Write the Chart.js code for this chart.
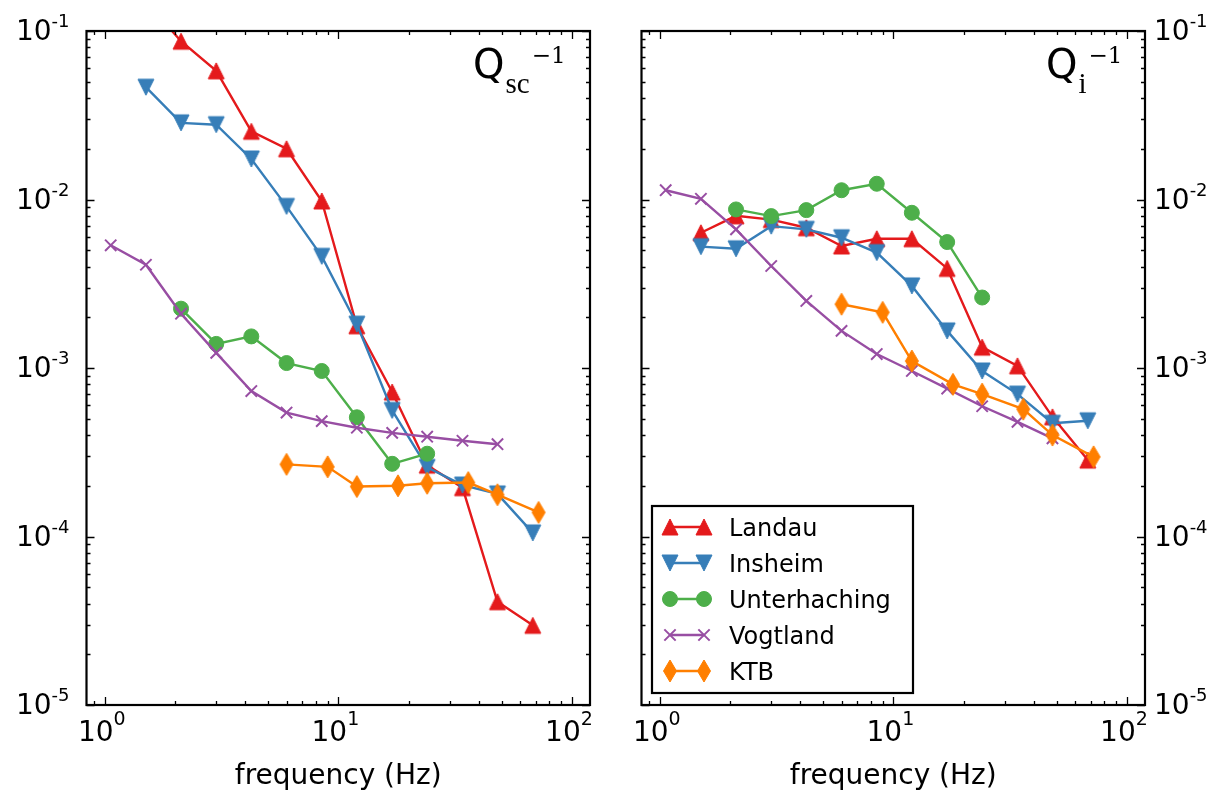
<!DOCTYPE html>
<html>
<head>
<meta charset="utf-8">
<script src="https://cdn.jsdelivr.net/npm/chart.js@4/dist/chart.umd.min.js"></script>
<style>
  body { margin: 0; background: #fff; }
  #wrap { position: relative; width: 1214px; height: 792px; background: #fff; }
  canvas { position: absolute; top: 0; }
</style>
</head>
<body>
<div id="wrap">
  <canvas id="scChart" width="615" height="792" style="left:0"></canvas>
  <canvas id="iChart" width="599" height="792" style="left:615px"></canvas>
</div>
<script>
// frequency bands (Hz)
const bandFreqs = [1.06, 1.5, 2.12, 3, 4.24, 6, 8.49, 12, 17, 24, 34, 48, 68];
const ktbFreqs = [6, 9, 12, 18, 24, 36, 48, 72];
const stations = ['Landau', 'Insheim', 'Unterhaching', 'Vogtland', 'KTB'];

// axis ticks
const xTickValues = [1, 10, 100];
const yTickValues = [1e-5, 1e-4, 1e-3, 1e-2, 1e-1];
const xMin = 0.835, xMax = 119.5;
const yMin = 1e-5, yMax = 1e-1;

// scattering attenuation Qsc^-1 (null = no value at that band)
const landauSc = [null, 0.15, 0.087, 0.058, 0.0254, 0.020, 0.0098, 0.00178, 0.00072, 0.000265, 0.000195, 4.1e-5, 2.97e-5];
const insheimSc = [null, 0.0464, 0.0285, 0.0278, 0.0174, 0.0091, 0.0046, 0.00182, 0.00056, 0.000257, 0.000202, 0.000179, 0.000105];
const unterSc = [null, null, 0.00225, 0.00139, 0.00154, 0.00107, 0.00096, 0.00051, 0.00027, 0.00031, null, null, null];
const vogtSc = [0.00535, 0.0041, 0.0021, 0.00123, 0.00073, 0.000544, 0.000484, 0.000442, 0.000412, 0.000391, 0.00037, 0.000353, null];
const ktbSc = [0.000268, 0.000259, 0.000198, 0.0002, 0.000207, 0.000209, 0.000177, 0.000139];

// intrinsic attenuation Qi^-1
const landauI = [null, 0.00635, 0.0080, 0.0076, 0.0068, 0.0053, 0.00585, 0.00585, 0.0039, 0.00133, 0.00103, 0.000513, 0.000284];
const insheimI = [null, 0.00525, 0.0051, 0.00695, 0.00665, 0.00593, 0.00484, 0.00307, 0.00166, 0.00096, 0.0007, 0.00047, 0.000486];
const unterI = [null, null, 0.00873, 0.00797, 0.00865, 0.01135, 0.0124, 0.00834, 0.00559, 0.00262, null, null, null];
const vogtI = [0.01135, 0.0101, 0.00665, 0.00403, 0.0025, 0.00166, 0.00121, 0.00096, 0.000755, 0.000593, 0.000479, 0.000382, null];
const ktbI = [0.00239, 0.00214, 0.0011, 0.0008, 0.0007, 0.00057, 0.0004, 0.000297];

const colors = ['#e41a1c', '#377eb8', '#4daf4a', '#984ea3', '#ff7f00'];

// small canvases for the marker shapes chart.js doesn't have
function markerCanvas(shape, color) {
  const c = document.createElement('canvas');
  const w = shape === 'diamond' ? 16 : 20;
  const h = shape === 'diamond' ? 26 : 20;
  c.width = w; c.height = h;
  const g = c.getContext('2d');
  g.fillStyle = color;
  g.strokeStyle = color;
  g.lineWidth = 1;
  const cx = w / 2, cy = h / 2;
  const s = 8;
  g.beginPath();
  if (shape === 'up') {
    g.moveTo(cx, cy - s); g.lineTo(cx + s, cy + s); g.lineTo(cx - s, cy + s);
  } else if (shape === 'down') {
    g.moveTo(cx, cy + s); g.lineTo(cx + s, cy - s); g.lineTo(cx - s, cy - s);
  } else {
    g.moveTo(cx, cy - 11); g.lineTo(cx + 6.5, cy); g.lineTo(cx, cy + 11); g.lineTo(cx - 6.5, cy);
  }
  g.closePath();
  g.fill();
  g.stroke();
  return c;
}

const markers = [
  { style: markerCanvas('up', colors[0]), radius: 8, border: 1 },
  { style: markerCanvas('down', colors[1]), radius: 8, border: 1 },
  { style: 'circle', radius: 7.5, border: 1 },
  { style: 'crossRot', radius: 8, border: 2 },
  { style: markerCanvas('diamond', colors[4]), radius: 8, border: 1 }
];

function buildDatasets(series) {
  return series.map((vals, i) => {
    const xs = i === 4 ? ktbFreqs : bandFreqs;
    const pts = [];
    vals.forEach((v, j) => { if (v !== null) pts.push({ x: xs[j], y: v }); });
    return {
      label: stations[i],
      data: pts,
      borderColor: colors[i],
      backgroundColor: colors[i],
      borderWidth: 2.4,
      pointStyle: markers[i].style,
      pointRadius: markers[i].radius,
      pointBorderWidth: markers[i].border,
      pointBackgroundColor: colors[i],
      pointBorderColor: colors[i],
      tension: 0,
      fill: false,
      order: 5 - i
    };
  });
}

function drawPow(ctx, exp, x, baseY, supY, supSize, align) {
  ctx.font = '28px "DejaVu Sans"';
  const w1 = ctx.measureText('10').width;
  ctx.font = supSize + 'px "DejaVu Sans"';
  const w2 = ctx.measureText(exp).width;
  let x0 = x;
  if (align === 'center') x0 = x - (w1 + w2) / 2;
  if (align === 'right') x0 = x - (w1 + w2);
  ctx.textAlign = 'left';
  ctx.textBaseline = 'alphabetic';
  ctx.font = '28px "DejaVu Sans"';
  ctx.fillText('10', x0, baseY);
  ctx.font = supSize + 'px "DejaVu Sans"';
  ctx.fillText(exp, x0 + w1, supY);
}

function drawMarker(ctx, i, x, y) {
  const m = markers[i];
  ctx.fillStyle = colors[i];
  ctx.strokeStyle = colors[i];
  if (typeof m.style === 'object') {
    ctx.drawImage(m.style, x - m.style.width / 2, y - m.style.height / 2);
  } else if (m.style === 'circle') {
    ctx.lineWidth = 1;
    ctx.beginPath();
    ctx.arc(x, y, m.radius, 0, Math.PI * 2);
    ctx.fill();
    ctx.stroke();
  } else {
    const d = m.radius * Math.SQRT1_2;
    ctx.lineWidth = 2;
    ctx.beginPath();
    ctx.moveTo(x - d, y - d); ctx.lineTo(x + d, y + d);
    ctx.moveTo(x + d, y - d); ctx.lineTo(x - d, y + d);
    ctx.stroke();
  }
}

// frame, inward ticks, tick labels, axis label, panel title, legend
const axesPlugin = {
  id: 'axesFrame',
  afterDraw(chart, args, o) {
    const ctx = chart.ctx;
    const a = chart.chartArea;
    const xs = chart.scales.x, ys = chart.scales.y;
    ctx.save();
    ctx.strokeStyle = '#000';
    ctx.lineWidth = 1.3;
    ctx.beginPath();
    for (let d = -1; d <= 2; d++) {
      for (let k = 1; k <= 9; k++) {
        const v = k * Math.pow(10, d);
        if (v < xs.min || v > xs.max) continue;
        const px = Math.round(xs.getPixelForValue(v)) + 0.5;
        const len = k === 1 ? 8 : 4;
        ctx.moveTo(px, a.bottom); ctx.lineTo(px, a.bottom - len);
        ctx.moveTo(px, a.top); ctx.lineTo(px, a.top + len);
      }
    }
    for (let d = -5; d <= -1; d++) {
      for (let k = 1; k <= 9; k++) {
        const v = k * Math.pow(10, d);
        if (v < ys.min * 0.999 || v > ys.max * 1.001) continue;
        const py = Math.round(ys.getPixelForValue(v)) + 0.5;
        const len = k === 1 ? 8 : 4;
        ctx.moveTo(a.left, py); ctx.lineTo(a.left + len, py);
        ctx.moveTo(a.right, py); ctx.lineTo(a.right - len, py);
      }
    }
    ctx.stroke();

    ctx.lineWidth = 2.2;
    ctx.strokeRect(a.left, a.top, a.right - a.left, a.bottom - a.top);

    ctx.fillStyle = '#000';
    xTickValues.forEach(v => {
      const px = xs.getPixelForValue(v);
      drawPow(ctx, String(Math.round(Math.log10(v))), px - 3, a.bottom + 36, a.bottom + 20, 19, 'center');
    });
    yTickValues.forEach(v => {
      const py = ys.getPixelForValue(v);
      const e = '-' + String(-Math.round(Math.log10(v)));
      if (o.ySide === 'left') drawPow(ctx, e, a.left - 17, py + 9, py - 4, 18, 'right');
      else drawPow(ctx, e, a.right + 9, py + 9, py - 4, 18, 'left');
    });

    ctx.font = '28px "DejaVu Sans"';
    ctx.textAlign = 'center';
    ctx.fillText('frequency (Hz)', (a.left + a.right) / 2, 784);

    // panel title
    ctx.textAlign = 'left';
    const qx = a.right - o.titleOffset;
    ctx.font = '40px "DejaVu Sans"';
    ctx.fillText('Q', qx, 78);
    const qw = ctx.measureText('Q').width;
    ctx.font = '29px "Liberation Serif"';
    ctx.fillText(o.sub, qx + qw + 1, 93);
    const sw = ctx.measureText(o.sub).width;
    ctx.font = '23px "DejaVu Serif"';
    ctx.fillText('\u22121', qx + qw + sw + 3, 63);

    if (o.legend) {
      const lx = 37, ly = 506, lw = 261, lh = 187;
      ctx.fillStyle = '#fff';
      ctx.fillRect(lx, ly, lw, lh);
      ctx.strokeStyle = '#000';
      ctx.lineWidth = 2.2;
      ctx.strokeRect(lx, ly, lw, lh);
      stations.forEach((name, i) => {
        const y = 527 + 36 * i;
        ctx.strokeStyle = colors[i];
        ctx.lineWidth = 2.4;
        ctx.beginPath();
        ctx.moveTo(55, y); ctx.lineTo(89, y);
        ctx.stroke();
        drawMarker(ctx, i, 55, y);
        drawMarker(ctx, i, 89, y);
        ctx.fillStyle = '#000';
        ctx.font = '24px "DejaVu Sans"';
        ctx.textAlign = 'left';
        ctx.fillText(name, 114, y + 9);
      });
    }
    ctx.restore();
  }
};

function makeChart(id, series, padding, opts) {
  return new Chart(document.getElementById(id), {
    type: 'line',
    data: { datasets: buildDatasets(series) },
    options: {
      responsive: false,
      animation: false,
      events: [],
      layout: { padding: padding },
      scales: {
        x: { type: 'logarithmic', min: xMin, max: xMax, display: false },
        y: { type: 'logarithmic', min: yMin, max: yMax, display: false }
      },
      plugins: {
        legend: { display: false },
        tooltip: { enabled: false },
        axesFrame: opts
      }
    },
    plugins: [axesPlugin]
  });
}

makeChart('scChart', [landauSc, insheimSc, unterSc, vogtSc, ktbSc],
  { left: 86.5, right: 25, top: 31, bottom: 87 },
  { ySide: 'left', sub: 'sc', titleOffset: 117, legend: false });

makeChart('iChart', [landauI, insheimI, unterI, vogtI, ktbI],
  { left: 26.5, right: 69, top: 31, bottom: 87 },
  { ySide: 'right', sub: 'i', titleOffset: 99, legend: true });
</script>
</body>
</html>
